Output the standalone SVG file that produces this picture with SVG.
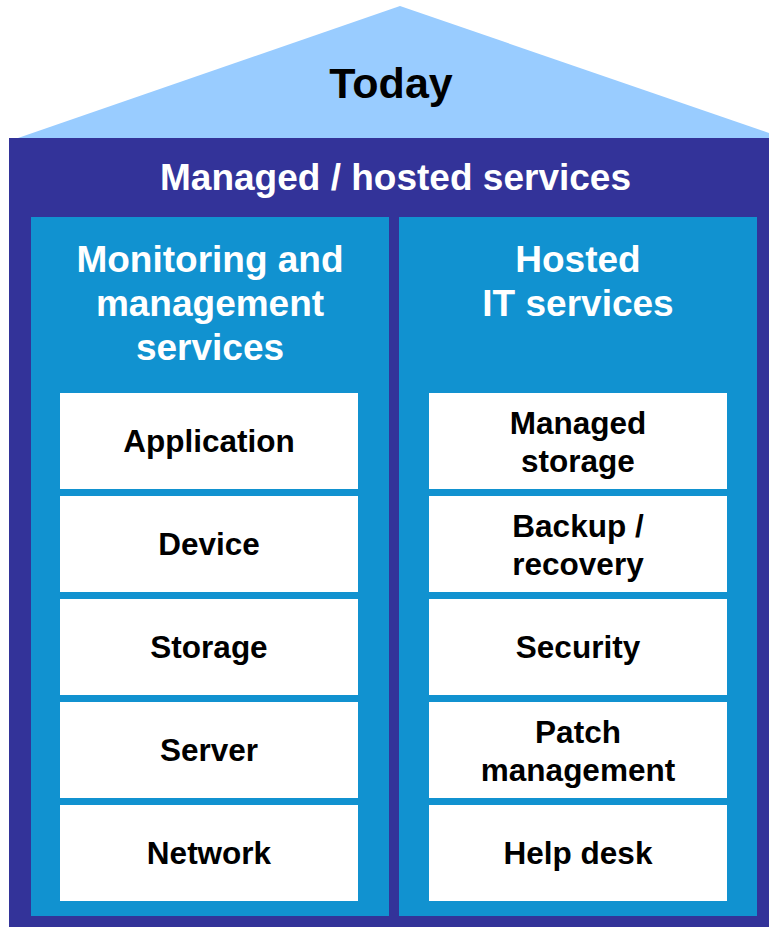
<svg xmlns="http://www.w3.org/2000/svg" width="769" height="927" viewBox="0 0 769 927">
<style>
text{font-family:"Liberation Sans",Arial,sans-serif;font-weight:bold;text-anchor:middle}
.hdr{fill:#fff;font-size:37px}
.box{fill:#fff}
.lbl{fill:#000;font-size:31.5px}
.col{fill:#1192D0}
</style>
<rect width="769" height="927" fill="#fff"/>
<g id="roof">
<polygon points="400,6 18,138 769,138 769,133" fill="#99CCFF"/>
<text x="391" y="98" style="font-size:43px;fill:#000">Today</text>
</g>
<g id="managed-hosted">
<rect x="9" y="138" width="760" height="789" fill="#333399"/>
<text class="hdr" x="395.5" y="190" textLength="471" lengthAdjust="spacingAndGlyphs">Managed / hosted services</text>
</g>
<g id="monitoring">
<rect class="col" x="31" y="217" width="358" height="699"/>
<text class="hdr" x="210" y="272">Monitoring and</text>
<text class="hdr" x="210" y="316">management</text>
<text class="hdr" x="210" y="360">services</text>
</g>
<g id="hosted-it">
<rect class="col" x="399" y="217" width="358" height="699"/>
<text class="hdr" x="578" y="272">Hosted</text>
<text class="hdr" x="578" y="316">IT services</text>
</g>
<g id="application"><rect class="box" x="60" y="393" width="298" height="96"/><text class="lbl" x="209" y="452">Application</text></g>
<g id="device"><rect class="box" x="60" y="496" width="298" height="96"/><text class="lbl" x="209" y="555">Device</text></g>
<g id="storage"><rect class="box" x="60" y="599" width="298" height="96"/><text class="lbl" x="209" y="658">Storage</text></g>
<g id="server"><rect class="box" x="60" y="702" width="298" height="96"/><text class="lbl" x="209" y="761">Server</text></g>
<g id="network"><rect class="box" x="60" y="805" width="298" height="96"/><text class="lbl" x="209" y="864">Network</text></g>
<g id="managed-storage"><rect class="box" x="429" y="393" width="298" height="96"/><text class="lbl" x="578" y="434">Managed</text><text class="lbl" x="578" y="472">storage</text></g>
<g id="backup"><rect class="box" x="429" y="496" width="298" height="96"/><text class="lbl" x="578" y="537">Backup /</text><text class="lbl" x="578" y="575">recovery</text></g>
<g id="security"><rect class="box" x="429" y="599" width="298" height="96"/><text class="lbl" x="578" y="658">Security</text></g>
<g id="patch"><rect class="box" x="429" y="702" width="298" height="96"/><text class="lbl" x="578" y="743">Patch</text><text class="lbl" x="578" y="781">management</text></g>
<g id="helpdesk"><rect class="box" x="429" y="805" width="298" height="96"/><text class="lbl" x="578" y="864">Help desk</text></g>
<g id="connectors"/>
</svg>
